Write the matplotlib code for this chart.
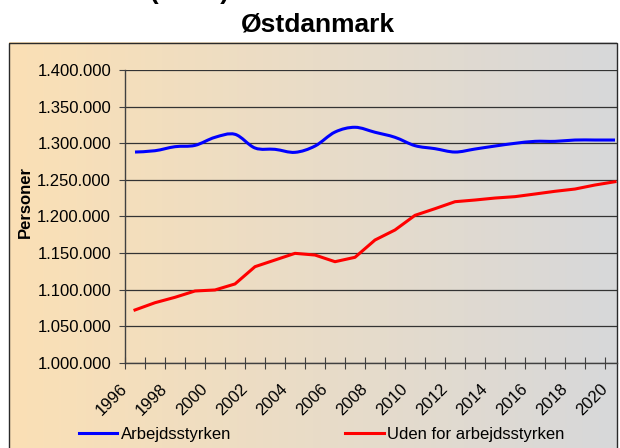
import numpy as np
import matplotlib
matplotlib.use("Agg")
import matplotlib.pyplot as plt
import matplotlib.transforms as mtransforms
from matplotlib.path import Path
from matplotlib.patches import PathPatch, Rectangle
from matplotlib.lines import Line2D
from matplotlib.ticker import FuncFormatter

plt.rcParams["font.family"] = ["Liberation Sans", "DejaVu Sans"]

# data
years = list(range(1996, 2021))
arbejdsstyrken = [1288000, 1289800, 1295300, 1297100, 1308100, 1312200, 1293500,
                  1291700, 1287600, 1296200, 1315300, 1321800, 1315000, 1308100,
                  1296700, 1292600, 1288000, 1292100, 1296200, 1299900, 1302600,
                  1302600, 1304400, 1304400, 1304400]
uden_for = [1072400, 1082300, 1089700, 1098300, 1099700, 1107900, 1131500,
            1140600, 1149700, 1147400, 1138300, 1144300, 1167900, 1181600,
            1201600, 1210700, 1220200, 1222500, 1225200, 1227100, 1230700,
            1234400, 1237500, 1243000, 1247500]
series_labels = ["Arbejdsstyrken", "Uden for arbejdsstyrken"]
title = "Østdanmark"
ylabel = "Personer"

W, H = 620, 448


def smooth_path(xs, ys):
    """Excel-style smoothed line as a cubic Bezier path through the points."""
    pts = np.column_stack([xs, ys]).astype(float)
    n = len(pts)
    verts = [pts[0]]
    codes = [Path.MOVETO]
    for i in range(n - 1):
        p0 = pts[max(i - 1, 0)]
        p1, p2 = pts[i], pts[i + 1]
        p3 = pts[min(i + 2, n - 1)]
        verts += [p1 + (p2 - p0) / 6, p2 - (p3 - p1) / 6, p2]
        codes += [Path.CURVE4] * 3
    return Path(verts, codes)


fig = plt.figure(figsize=(W / 100, H / 100), dpi=100)

# chart area background with gradient + border
bg = fig.add_axes([0, 0, 1, 1], zorder=-5)
bg.set_xlim(0, W)
bg.set_ylim(H, 0)
bg.axis("off")
c_left = np.array([251, 224, 181]) / 255
c_right = np.array([215, 216, 218]) / 255
t = np.linspace(0, 1, 256)[None, :, None]
grad = c_left * (1 - t) + c_right * t
bg.imshow(grad, extent=[9, 617, 460, 43], aspect="auto", interpolation="bilinear")
bg.add_patch(Rectangle((9, 43), 608, 417, fill=False, ec="#2a2a2a", lw=1.0))

ax = fig.add_axes([125 / W, 1 - 363 / H, (617 - 125) / W, (363 - 70) / H])
ax.set_facecolor("none")

ax.add_patch(PathPatch(smooth_path(years, arbejdsstyrken), fill=False,
                       ec="#0000FF", lw=2.2, zorder=3))
ax.plot(years, uden_for, color="#FF0000", lw=2.2, zorder=3,
        solid_joinstyle="round")

ax.set_xlim(1995.5, 1995.5 + 492 / 20)
ax.set_ylim(1000000, 1400000)
ax.set_yticks(np.arange(1000000, 1400001, 50000))
ax.yaxis.set_major_formatter(FuncFormatter(lambda v, p: f"{int(v):,}".replace(",", ".")))
ax.yaxis.grid(True, color="#333333", lw=0.9)
ax.set_axisbelow(True)

for s in ["top", "right"]:
    ax.spines[s].set_visible(False)
for s in ["left", "bottom"]:
    ax.spines[s].set_color("#404040")
    ax.spines[s].set_linewidth(1.0)

ax.tick_params(axis="y", direction="out", length=4, width=0.8, color="#404040",
               pad=6, labelsize=12)

# category boundaries carry the tick marks, labels sit on every other year
ax.set_xticks(np.arange(1995.5, 2020.0, 1.0))
ax.tick_params(axis="x", which="major", direction="inout", length=8, width=0.8,
               color="#404040", labelbottom=False)
ax.set_xticks(years[::2], minor=True)
ax.set_xticklabels([str(y) for y in years[::2]], minor=True, rotation=45,
                   ha="right", va="center", rotation_mode="anchor", fontsize=12)
ax.tick_params(axis="x", which="minor", length=0, pad=17)
shift = mtransforms.ScaledTranslation(-10 / 100, 0, fig.dpi_scale_trans)
for lab in ax.get_xticklabels(minor=True):
    lab.set_transform(lab.get_transform() + shift)

fig.text(25 / W, 1 - 202 / H, ylabel, rotation=90, ha="center", va="center",
         fontsize=12, fontweight="bold")
fig.text(318 / W, 1 - 31 / H, title, ha="center", va="baseline",
         fontsize=19, fontweight="bold")
# top line of the header is cut off in the source image
fig.text(128.5 / W, 1 + 0.5 / H, "Personer (antal)", ha="center", va="baseline",
         fontsize=19, fontweight="bold")

handles = [Line2D([], [], color="#0000FF", lw=2.2),
           Line2D([], [], color="#FF0000", lw=2.2)]
fig.legend(handles, series_labels, loc="center left",
           bbox_to_anchor=(79 / W, 1 - 434 / H), ncol=2, frameon=False,
           fontsize=12, handlelength=2.3, handletextpad=0.2, columnspacing=6.85,
           borderpad=0, borderaxespad=0)

fig.savefig("out.png", dpi=100)
